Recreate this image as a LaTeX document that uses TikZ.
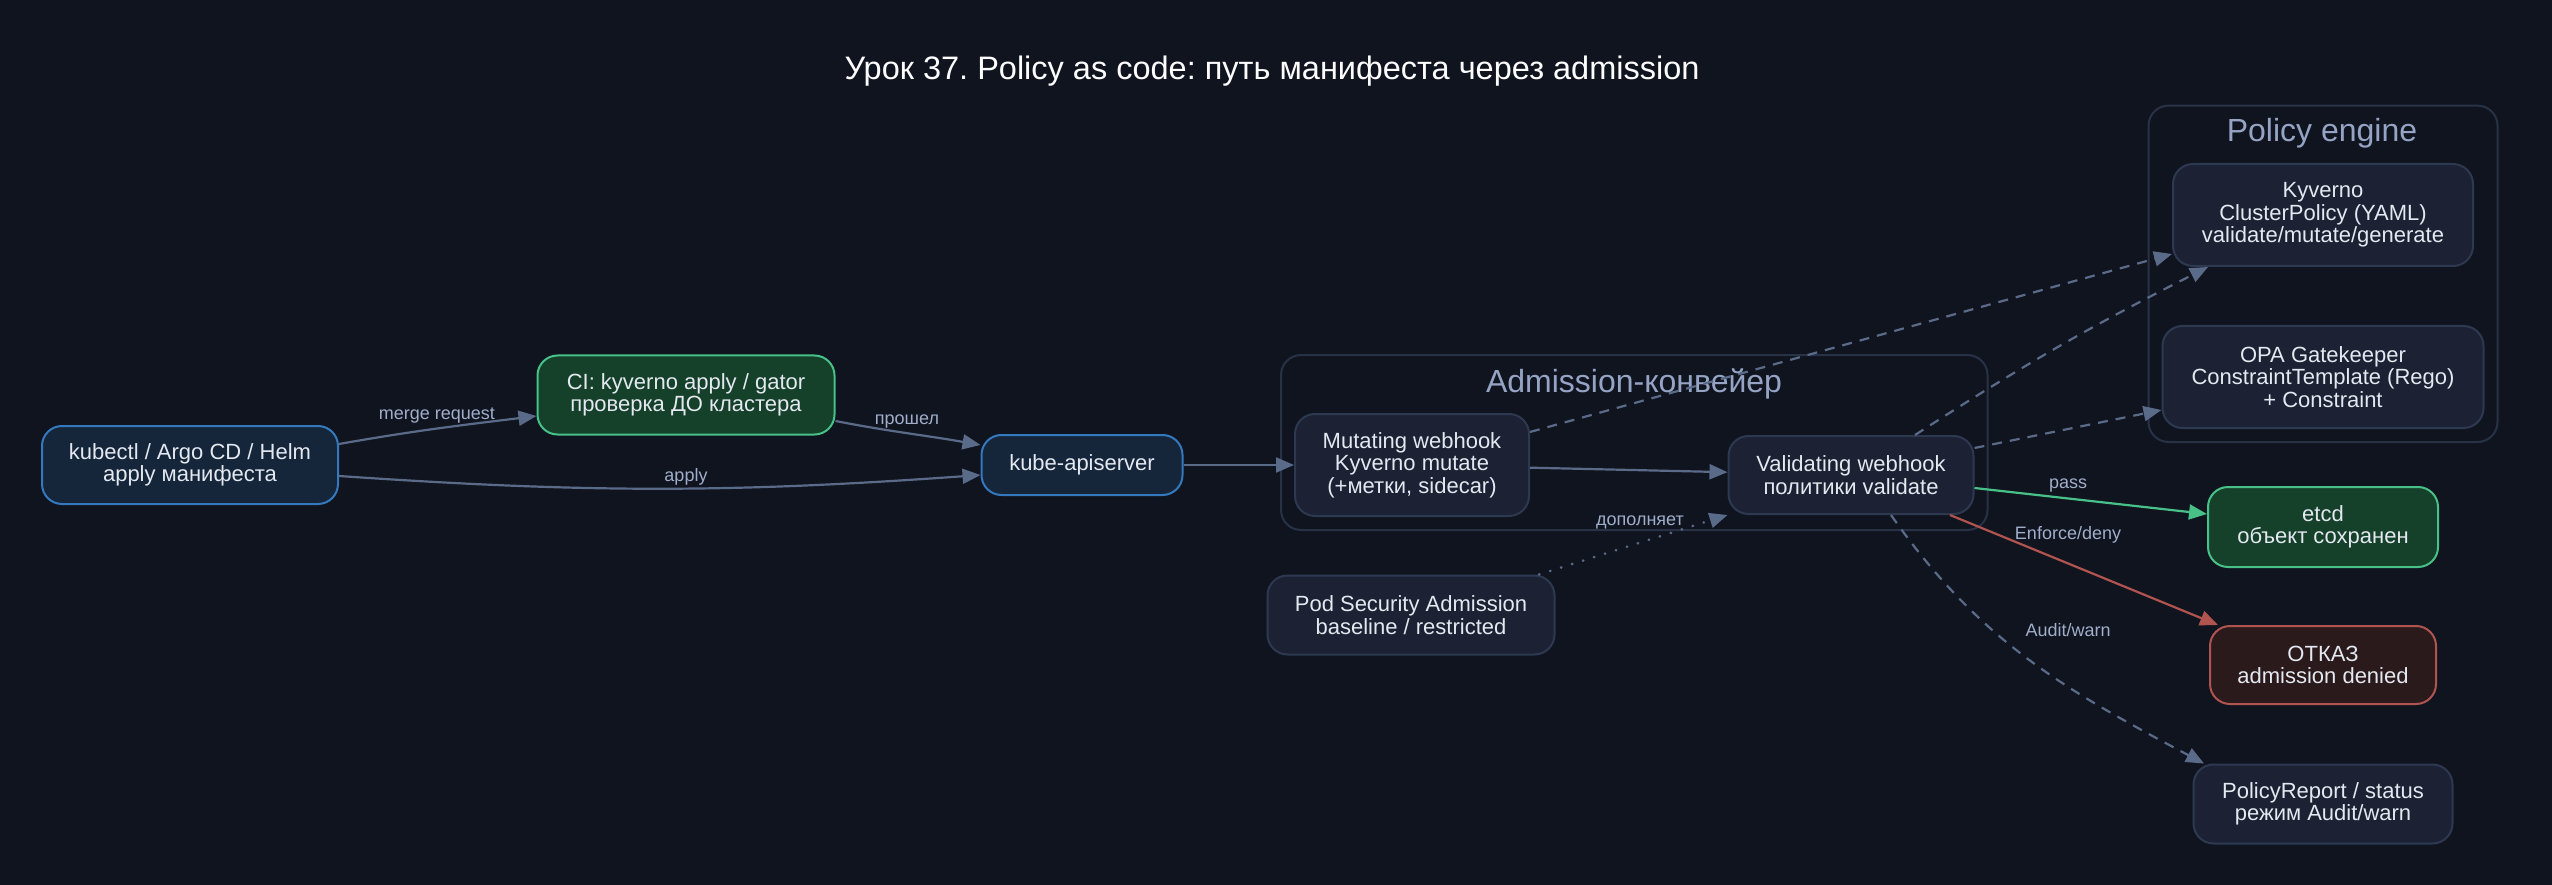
\documentclass[tikz,border=0pt]{standalone}
\usepackage{fontspec}
\setmainfont{Liberation Sans}
\usetikzlibrary{arrows.meta,backgrounds,fit}
\frenchspacing
\definecolor{canvas}{HTML}{10141F}
\definecolor{ink}{HTML}{E4E8F0}
\definecolor{nodefill}{HTML}{1C2233}
\definecolor{nodeline}{HTML}{2D3951}
\definecolor{laneline}{HTML}{283246}
\definecolor{lanetext}{HTML}{95A4C4}
\definecolor{bluefill}{HTML}{15263B}
\definecolor{blueline}{HTML}{3478BE}
\definecolor{greenfill}{HTML}{15412B}
\definecolor{greenline}{HTML}{47C187}
\definecolor{redfill}{HTML}{2A1A1C}
\definecolor{redline}{HTML}{B0544F}
\definecolor{edge}{HTML}{5A6A89}
\definecolor{edgetext}{HTML}{A0AECB}

\begin{document}
\begin{tikzpicture}[
  x=1pt, y=1pt,
  font={\fontsize{22}{22.5}\selectfont},
  text=ink,
  box/.style={
    draw=nodeline,
    line width=2pt,
    rounded corners=20pt,
    fill=nodefill,
    align=center,
    inner sep=0pt
  },
  entry/.style={box, draw=blueline, fill=bluefill},
  check/.style={box, draw=greenline, fill=greenfill},
  reject/.style={box, draw=redline, fill=redfill},
  arrow/.style={-{Triangle[length=18pt,width=15pt]}, line width=2.2pt, draw=edge},
  lookup/.style={arrow, dash pattern=on 10pt off 8pt},
  supplement/.style={arrow, line cap=round, dash pattern=on 0.5pt off 11pt, line width=2.6pt},
  passarrow/.style={arrow, draw=greenline},
  denyarrow/.style={arrow, draw=redline},
  edgelabel/.style={font={\fontsize{18}{18}\selectfont}, text=edgetext, inner sep=0pt},
  lanetitle/.style={font={\fontsize{32}{32}\selectfont}, text=lanetext, inner sep=0pt},
  lane/.style={
    draw=laneline,
    line width=2pt,
    rounded corners=20pt,
    inner sep=13pt
  }
]

\useasboundingbox (0,0) rectangle (2552,-885);
\begin{scope}[on background layer]
  \fill[canvas] (0,0) rectangle (2552,-885);
\end{scope}

\node[font={\fontsize{32.5}{33}\selectfont}, text=white!92!ink, anchor=base] (title) at (1272,-80) {Урок 37. Policy as code: путь манифеста через admission};

% Manifest source and CI check
\node[entry, minimum width=296pt, minimum height=78pt] (client) at (190,-465) {kubectl / Argo CD / Helm\\apply манифеста};
\node[check, minimum width=297pt, minimum height=79pt] (ci) at (686,-395) {CI: kyverno apply / gator\\проверка ДО кластера};
\node[entry, minimum width=201pt, minimum height=60pt] (apiserver) at (1082,-465) {kube-apiserver};

\draw[arrow] ([yshift=21pt]client.east) to[out=10,in=187] ([yshift=-21pt]ci.west);
\draw[arrow] ([yshift=-26pt]ci.east) to[out=-11,in=170] ([yshift=20pt]apiserver.west);
\draw[arrow] ([yshift=-11pt]client.east) to[bend right=4] ([yshift=-10pt]apiserver.west);

\node[edgelabel] (mergelabel) at (437,-416) {merge request};
\node[edgelabel] (passedlabel) at (907,-422) {прошел};
\node[edgelabel] (applylabel) at (686,-477) {apply};

% Admission pipeline
\node[box, minimum width=234pt, minimum height=102pt] (mutating) at (1412,-465) {Mutating webhook\\Kyverno mutate\\(+метки, sidecar)};
\node[box, minimum width=245pt, minimum height=78pt] (validating) at (1851,-475) {Validating webhook\\политики validate};
\node[box, minimum width=287pt, minimum height=79pt] (podsecurity) at (1411,-615) {Pod Security Admission\\baseline / restricted};
\node[lanetitle, anchor=base] (admissiontitle) at (1634,-392) {Admission-конвейер};

\draw[arrow] (apiserver) -- (mutating);
\draw[arrow] (mutating) -- (validating);
\draw[supplement] ([xshift=128pt]podsecurity.north) -- (validating.south west);
\node[edgelabel] (supplementlabel) at (1640,-522) {дополняет};

% Policy engine
\node[box, minimum width=300pt, minimum height=102pt] (kyverno) at (2323,-215) {Kyverno\\ClusterPolicy (YAML)\\validate/mutate/generate};
\node[box, minimum width=321pt, minimum height=102pt] (gatekeeper) at (2323,-377) {OPA Gatekeeper\\ConstraintTemplate (Rego)\\+ Constraint};
\node[lanetitle, anchor=base] (enginetitle) at (2322,-142) {Policy engine};

\draw[lookup] ([yshift=33pt]mutating.east) -- ([yshift=-39pt]kyverno.west);
\draw[lookup] ([xshift=64pt]validating.north) to[bend left=3] ([xshift=-115pt]kyverno.south);
\draw[lookup] ([yshift=27pt]validating.east) -- ([yshift=-33pt]gatekeeper.west);

% Outcomes
\node[check, minimum width=230pt, minimum height=80pt] (etcd) at (2323,-527) {etcd\\объект сохранен};
\node[reject, minimum width=226pt, minimum height=78pt] (denied) at (2323,-665) {ОТКАЗ\\admission denied};
\node[box, minimum width=259pt, minimum height=79pt] (report) at (2323,-804) {PolicyReport / status\\режим Audit/warn};

\draw[passarrow] ([yshift=-13pt]validating.east) -- ([yshift=13pt]etcd.west);
\draw[denyarrow] ([xshift=99pt]validating.south) -- ([xshift=-105pt]denied.north);
\draw[lookup] ([xshift=40pt]validating.south) to[out=-55,in=152] ([xshift=-119pt]report.north);

\node[edgelabel] (passlabel) at (2068,-486) {pass};
\node[edgelabel] (enforcelabel) at (2068,-535) {Enforce/deny};
\node[edgelabel] (auditlabel) at (2068,-630) {Audit/warn};

% Lane frames
\begin{scope}[on background layer]
  \node[lane, fit=(mutating)(validating)(admissiontitle)] (admission) {};
  \node[lane, fit=(kyverno)(gatekeeper)(enginetitle)] (engine) {};
\end{scope}

\end{tikzpicture}
\end{document}
